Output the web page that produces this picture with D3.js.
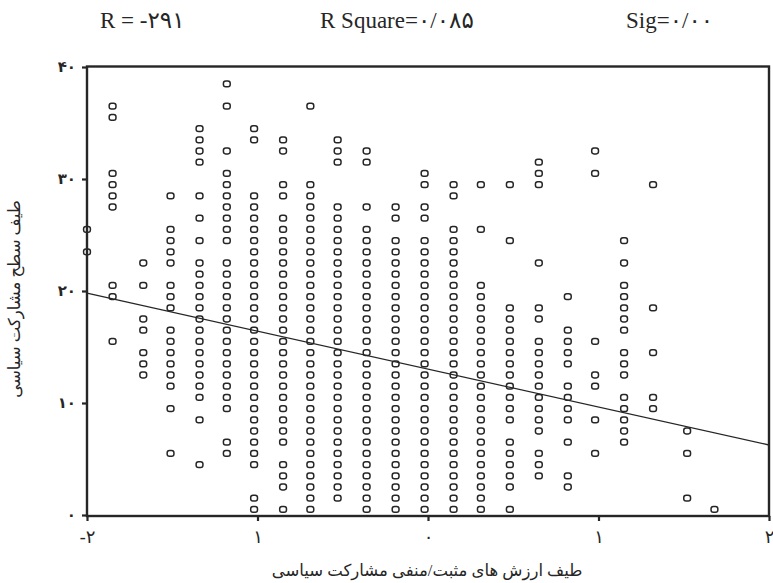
<!DOCTYPE html>
<html>
<head>
<meta charset="utf-8">
<script src="https://cdn.jsdelivr.net/npm/d3@7/dist/d3.min.js"></script>
<style>
  html, body { margin: 0; padding: 0; background: #fff; }
  svg { display: block; }
</style>
</head>
<body>
<svg id="chart" width="773" height="583"></svg>
<script>
// ---- data ----
const columnX = [-2, -1.85, -1.67, -1.51, -1.34, -1.18, -1.02, -0.85, -0.69, -0.53, -0.36, -0.19, -0.02,
                 0.15, 0.31, 0.48, 0.65, 0.82, 0.98, 1.15, 1.32, 1.52, 1.68];

const columnY = [
  [25.5, 23.5],
  [36.5, 35.5, 30.5, 29.5, 28.5, 27.5, 20.5, 19.5, 15.5],
  [22.5, 20.5, 17.5, 16.5, 14.5, 13.5, 12.5],
  [28.5, 25.5, 24.5, 23.5, 22.5, 20.5, 19.5, 18.5, 16.5, 15.5, 14.5, 13.5, 12.5, 11.5, 9.5, 5.5],
  [34.5, 33.5, 32.5, 31.5, 28.5, 26.5, 24.5, 22.5, 21.5, 20.5, 19.5, 18.5, 17.5, 16.5, 15.5, 14.5, 13.5, 12.5, 11.5, 10.5, 8.5, 4.5],
  [38.5, 36.5, 32.5, 30.5, 29.5, 28.5, 27.5, 26.5, 25.5, 24.5, 22.5, 21.5, 20.5, 19.5, 18.5, 17.5, 16.5, 15.5, 14.5, 13.5, 12.5, 11.5, 10.5, 9.5, 6.5, 5.5],
  [34.5, 33.5, 28.5, 27.5, 26.5, 25.5, 24.5, 23.5, 22.5, 21.5, 20.5, 19.5, 18.5, 17.5, 16.5, 15.5, 14.5, 13.5, 12.5, 11.5, 10.5, 9.5, 8.5, 7.5, 6.5, 5.5, 4.5, 1.5, 0.5],
  [33.5, 32.5, 29.5, 28.5, 26.5, 25.5, 24.5, 23.5, 22.5, 21.5, 20.5, 19.5, 18.5, 17.5, 16.5, 15.5, 14.5, 13.5, 12.5, 11.5, 10.5, 9.5, 8.5, 7.5, 6.5, 4.5, 3.5, 2.5, 0.5],
  [36.5, 29.5, 28.5, 27.5, 26.5, 25.5, 24.5, 23.5, 22.5, 21.5, 20.5, 19.5, 18.5, 17.5, 16.5, 15.5, 14.5, 13.5, 12.5, 11.5, 10.5, 9.5, 8.5, 7.5, 6.5, 5.5, 4.5, 3.5, 2.5, 1.5, 0.5],
  [33.5, 32.5, 31.5, 27.5, 26.5, 25.5, 24.5, 23.5, 22.5, 21.5, 20.5, 19.5, 18.5, 17.5, 16.5, 15.5, 14.5, 13.5, 12.5, 11.5, 10.5, 9.5, 8.5, 7.5, 6.5, 5.5, 4.5, 3.5, 2.5, 1.5],
  [32.5, 31.5, 27.5, 25.5, 24.5, 23.5, 22.5, 21.5, 20.5, 19.5, 18.5, 17.5, 16.5, 15.5, 14.5, 13.5, 12.5, 11.5, 10.5, 9.5, 8.5, 7.5, 6.5, 5.5, 4.5, 3.5, 2.5, 1.5, 0.5],
  [27.5, 26.5, 24.5, 23.5, 22.5, 21.5, 20.5, 19.5, 18.5, 17.5, 16.5, 15.5, 14.5, 13.5, 12.5, 11.5, 10.5, 9.5, 8.5, 7.5, 6.5, 5.5, 4.5, 3.5, 2.5, 1.5, 0.5],
  [30.5, 29.5, 27.5, 26.5, 24.5, 23.5, 22.5, 21.5, 20.5, 19.5, 18.5, 17.5, 16.5, 15.5, 14.5, 13.5, 12.5, 11.5, 10.5, 9.5, 8.5, 7.5, 6.5, 5.5, 4.5, 3.5, 2.5, 1.5, 0.5],
  [29.5, 28.5, 25.5, 24.5, 23.5, 22.5, 21.5, 20.5, 19.5, 18.5, 17.5, 16.5, 15.5, 14.5, 13.5, 12.5, 11.5, 10.5, 9.5, 8.5, 7.5, 6.5, 5.5, 4.5, 3.5, 2.5, 1.5, 0.5],
  [29.5, 25.5, 20.5, 19.5, 18.5, 17.5, 16.5, 15.5, 14.5, 13.5, 12.5, 11.5, 10.5, 9.5, 8.5, 7.5, 6.5, 5.5, 4.5, 3.5, 2.5, 1.5, 0.5],
  [29.5, 24.5, 18.5, 17.5, 16.5, 15.5, 14.5, 13.5, 12.5, 11.5, 10.5, 9.5, 8.5, 6.5, 5.5, 4.5, 3.5, 2.5, 0.5],
  [31.5, 30.5, 29.5, 22.5, 18.5, 17.5, 15.5, 14.5, 13.5, 12.5, 11.5, 10.5, 9.5, 8.5, 7.5, 5.5, 4.5, 3.5],
  [19.5, 16.5, 15.5, 14.5, 13.5, 11.5, 10.5, 9.5, 8.5, 6.5, 3.5, 2.5],
  [32.5, 30.5, 15.5, 12.5, 11.5, 8.5, 5.5],
  [24.5, 22.5, 20.5, 19.5, 18.5, 17.5, 16.5, 14.5, 13.5, 12.5, 10.5, 9.5, 8.5, 7.5, 6.5],
  [29.5, 18.5, 14.5, 10.5, 9.5],
  [7.5, 5.5, 1.5],
  [0.5]
];

const fitLineX = [-2, 2];
const fitLineY = [19.8, 6.25];

const xTickValues = [-2, -1, 0, 1, 2];
const xTickLabels = ["-۲", "۱", "۰", "۱", "۲"];
const yTickValues = [0, 10, 20, 30, 40];
const yTickLabels = ["۰", "۱۰", "۲۰", "۳۰", "۴۰"];

const statLabels = ["R = -۲۹۱", "R Square=۰/۰۸۵", "Sig=۰/۰۰"];
const xTitle = "طیف ارزش های مثبت/منفی مشارکت سیاسی";
const yTitle = "طیف سطح مشارکت سیاسی";

// ---- drawing ----
const svg = d3.select("#chart");
const ink = "#262626";
const serif = "'Liberation Serif', 'DejaVu Serif', 'DejaVu Sans', serif";

const x = d3.scaleLinear().domain([-2, 2]).range([87, 769]);
const y = d3.scaleLinear().domain([0, 40]).range([515, 67]);

const points = [];
columnX.forEach((cx, i) => columnY[i].forEach(v => points.push({x: cx, y: v})));

// points
svg.append("g").selectAll("rect").data(points).join("rect")
  .attr("x", d => x(d.x) - 3.4)
  .attr("y", d => y(d.y) - 2.9)
  .attr("width", 6.8).attr("height", 5.8)
  .attr("rx", 2.3).attr("ry", 2.3)
  .attr("fill", "none").attr("stroke", ink).attr("stroke-width", 1.5);

// fit line
svg.append("line")
  .attr("x1", x(fitLineX[0])).attr("y1", y(fitLineY[0]))
  .attr("x2", x(fitLineX[1])).attr("y2", y(fitLineY[1]))
  .attr("stroke", ink).attr("stroke-width", 1.3);

// frame
svg.append("rect")
  .attr("x", x(-2)).attr("y", y(40) - 0.5)
  .attr("width", x(2) - x(-2)).attr("height", y(0) - y(40) + 1.5)
  .attr("fill", "none").attr("stroke", ink).attr("stroke-width", 2.4);

// axes
const xAxis = d3.axisBottom(x).tickValues(xTickValues).tickSize(5)
  .tickFormat((d, i) => xTickLabels[i]);
const gx = svg.append("g").attr("transform", `translate(0,${y(0) + 1})`).call(xAxis);
gx.select(".domain").remove();
gx.selectAll("line").attr("stroke", ink).attr("stroke-width", 2.2);
gx.selectAll("text").attr("font-family", serif).attr("font-size", 18).attr("fill", ink).attr("dy", "1.05em");

const yAxis = d3.axisLeft(y).tickValues(yTickValues).tickSize(5)
  .tickFormat((d, i) => yTickLabels[i]);
const gy = svg.append("g").attr("transform", `translate(${x(-2)},0)`).call(yAxis);
gy.select(".domain").remove();
gy.selectAll("line").attr("stroke", ink).attr("stroke-width", 2.2);
gy.selectAll("text").attr("font-family", serif).attr("font-size", 15).attr("font-weight", "bold")
  .attr("fill", ink).attr("x", -11);

// stats header
const statX = [100, 320, 626];
svg.append("g").selectAll("text").data(statLabels).join("text")
  .attr("x", (d, i) => statX[i]).attr("y", 28)
  .attr("font-family", serif).attr("font-size", 23).attr("fill", ink)
  .text(d => d);

// axis titles
svg.append("text")
  .attr("x", 427).attr("y", 576)
  .attr("text-anchor", "middle").attr("direction", "rtl")
  .attr("font-family", serif).attr("font-size", 16.5).attr("fill", ink)
  .text(xTitle);

svg.append("text")
  .attr("transform", "translate(20,299) rotate(-90)")
  .attr("text-anchor", "middle").attr("direction", "rtl")
  .attr("font-family", serif).attr("font-size", 16.5).attr("fill", ink)
  .text(yTitle);
</script>
</body>
</html>
